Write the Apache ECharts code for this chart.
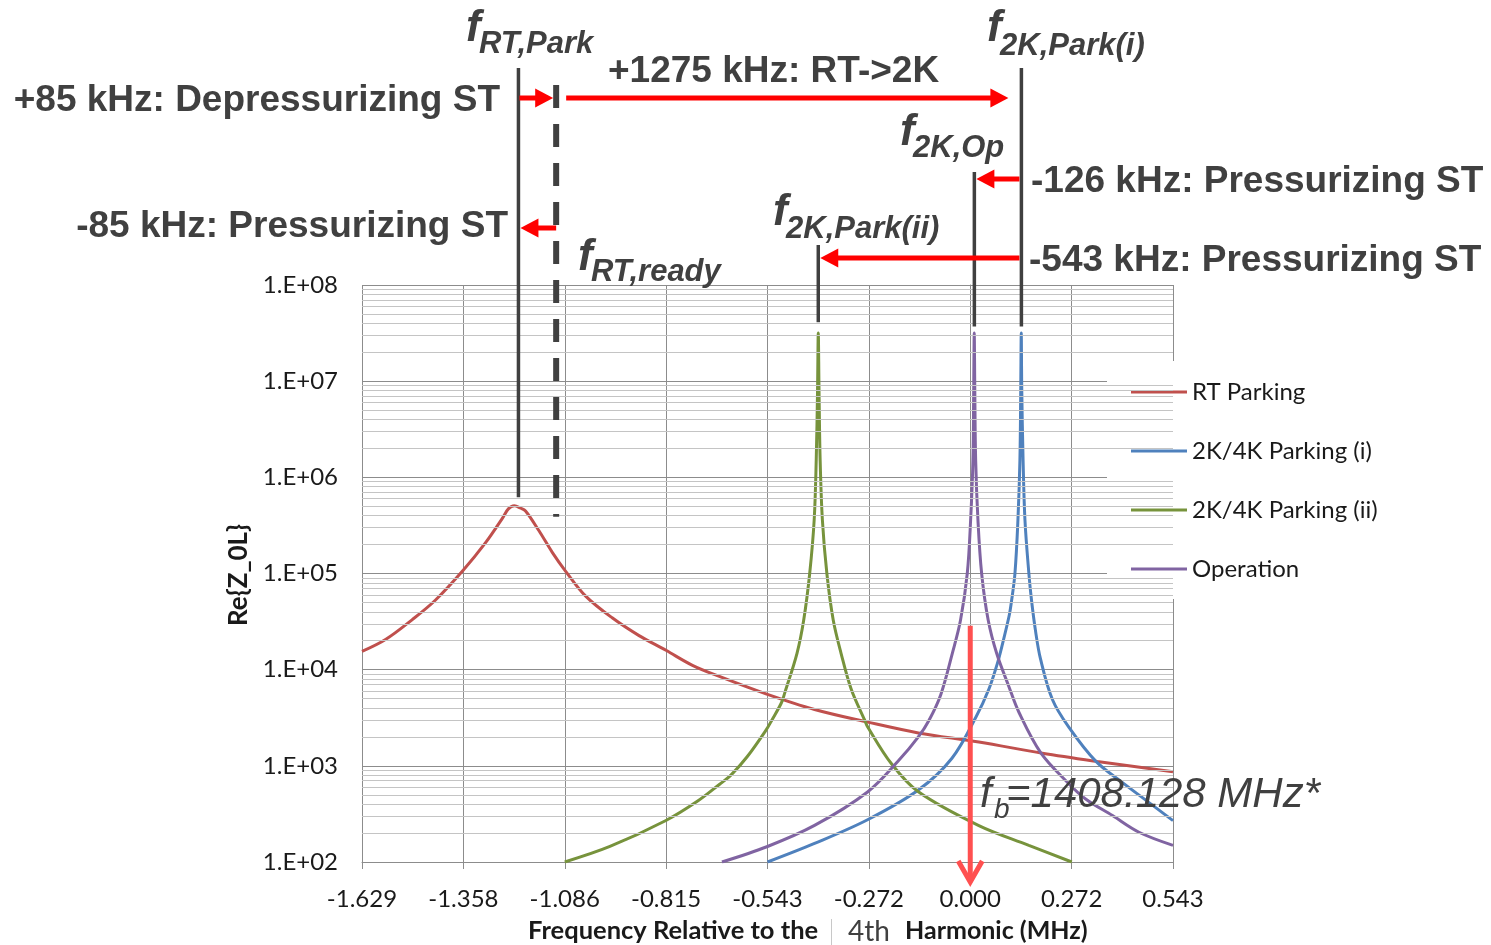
<!DOCTYPE html>
<html><head><meta charset="utf-8">
<script src="https://cdn.jsdelivr.net/npm/echarts@6/dist/echarts.min.js"></script>
<style>html,body{margin:0;padding:0;background:#fff}#c{width:1491px;height:945px}</style>
</head><body><div id="c"></div>
<script>
// ---------- data ----------
const seriesNames = ['RT Parking', '2K/4K Parking (i)', '2K/4K Parking (ii)', 'Operation'];
const xTickLabels = ['-1.629', '-1.358', '-1.086', '-0.815', '-0.543', '-0.272', '0.000', '0.272', '0.543'];
const yTickLabels = ['1.E+02', '1.E+03', '1.E+04', '1.E+05', '1.E+06', '1.E+07', '1.E+08'];
const xMin = -1.629, xMax = 0.543, xStep = 0.2715;

// [frequency offset (MHz), Re{Z_0L}]
const rtParking = [
  [-1.629, 15500], [-1.566, 20600], [-1.495, 33000], [-1.432, 53000], [-1.358, 108000],
  [-1.298, 209000], [-1.254, 370000], [-1.237, 470000], [-1.221, 506000], [-1.205, 480000],
  [-1.191, 447000], [-1.155, 278000], [-1.119, 165000], [-1.084, 106000], [-1.030, 58200],
  [-0.959, 34600], [-0.887, 22600], [-0.815, 15900], [-0.744, 11100], [-0.672, 8500],
  [-0.547, 5600], [-0.417, 3850], [-0.275, 2850], [-0.139, 2200], [0.023, 1770],
  [0.193, 1350], [0.340, 1110], [0.543, 867]
];
const parkingI = [
  [-0.543, 100], [-0.417, 156], [-0.275, 275], [-0.139, 560], [-0.049, 1200], [0.015, 3200],
  [0.050, 6300], [0.0723, 11500], [0.0814, 15500], [0.1036, 35500], [0.110, 50000],
  [0.1197, 100000], [0.1277, 360000], [0.133, 1510000], [0.1352, 8000000], [0.1366, 31600000],
  [0.138, 8000000], [0.1415, 1510000], [0.1465, 360000], [0.157, 100000], [0.164, 53000],
  [0.175, 25000], [0.188, 13000], [0.220, 4900], [0.2644, 2510], [0.336, 1120],
  [0.407, 673], [0.470, 440], [0.543, 269]
];
const parkingII = [
  [-1.086, 100], [-0.965, 145], [-0.815, 270], [-0.730, 430], [-0.672, 640], [-0.641, 800],
  [-0.597, 1250], [-0.547, 2350], [-0.531, 3000], [-0.506, 4500], [-0.497, 5700],
  [-0.464, 14800], [-0.446, 32800], [-0.430, 100000], [-0.418, 360000], [-0.4125, 1510000],
  [-0.409, 8000000], [-0.407, 31600000], [-0.405, 8000000], [-0.402, 1510000], [-0.396, 360000],
  [-0.384, 100000], [-0.367, 32800], [-0.346, 14800], [-0.319, 6300], [-0.283, 3000],
  [-0.275, 2550], [-0.211, 1050], [-0.139, 537], [0.023, 239], [0.157, 149], [0.272, 100]
];
const operation = [
  [-0.665, 100], [-0.543, 145], [-0.417, 240], [-0.275, 535], [-0.193, 1120], [-0.139, 2000],
  [-0.110, 3000], [-0.079, 5500], [-0.048, 14800], [-0.026, 32800], [-0.008, 100000],
  [0.001, 360000], [0.0072, 1510000], [0.0092, 8000000], [0.0107, 31600000], [0.0122, 8000000],
  [0.0145, 1510000], [0.0206, 360000], [0.0305, 100000], [0.048, 32800], [0.0707, 14800],
  [0.1036, 6650], [0.130, 3630], [0.1885, 1374], [0.260, 676], [0.309, 452], [0.381, 304],
  [0.452, 204], [0.543, 149]
];

// annotation marker frequencies (MHz)
const fRTPark = -1.210, fRTReady = -1.109, f2KParkII = -0.407, f2KOp = 0.011, f2KParkI = 0.137;
const fBeam = 0.000;

// ---------- chart ----------
const colors = ['#C0504D', '#4F81BD', '#77933C', '#8064A2'];
const fontC = 'Lato, "Open Sans", sans-serif';
const fontA = '"Liberation Sans", Arial, sans-serif';
const grayAxis = '#8C8C8C';

const minorVals = [];
for (let e = 2; e < 8; e++) for (let m = 2; m <= 9; m++) minorVals.push(m * Math.pow(10, e));

const chart = echarts.init(document.getElementById('c'), null, { renderer: 'canvas' });
const dataSets = [rtParking, parkingI, parkingII, operation];

const option = {
  animation: false,
  backgroundColor: '#fff',
  grid: { left: 362, top: 285, width: 811, height: 577, containLabel: false },
  xAxis: {
    type: 'value', min: xMin, max: xMax, interval: xStep,
    axisLine: { show: true, lineStyle: { color: grayAxis, width: 1 } },
    axisTick: { show: true, length: 7, lineStyle: { color: grayAxis } },
    axisLabel: {
      margin: 25, fontFamily: fontC, fontSize: 24, color: '#1a1a1a',
      formatter: v => xTickLabels[Math.round((v - xMin) / xStep)] || ''
    },
    splitLine: { show: true, lineStyle: { color: grayAxis, width: 1 } }
  },
  yAxis: {
    type: 'log', logBase: 10, min: 100, max: 1e8, splitNumber: 6,
    axisLine: { show: true, lineStyle: { color: grayAxis, width: 1 } },
    axisTick: { show: true, length: 8, lineStyle: { color: grayAxis } },
    axisLabel: {
      margin: 24, fontFamily: fontC, fontSize: 24, color: '#1a1a1a',
      formatter: v => yTickLabels[Math.round(Math.log10(v)) - 2] || ''
    },
    splitLine: { show: true, lineStyle: { color: grayAxis, width: 1 } }
  },
  legend: {
    orient: 'vertical', left: 1107, top: 361, padding: [19, 70, 18, 24],
    backgroundColor: '#fff', itemWidth: 56, itemHeight: 3, itemGap: 35, icon: 'rect',
    data: seriesNames,
    textStyle: { fontFamily: fontC, fontSize: 24, color: '#1a1a1a', lineHeight: 24 }
  },
  series: [
    {
      type: 'line', data: [], silent: true, z: 1,
      markLine: {
        silent: true, symbol: ['none', 'none'], label: { show: false },
        lineStyle: { color: '#C4C4C4', width: 1, type: 'solid' },
        emphasis: { disabled: true },
        data: minorVals.map(v => ({ yAxis: v }))
      }
    }
  ].concat(seriesNames.map((n, i) => ({
    name: n, type: 'line', data: dataSets[i], showSymbol: false, symbol: 'none',
    smooth: 0.35, z: 3,
    lineStyle: { color: colors[i], width: 3 }, itemStyle: { color: colors[i] }
  })))
};
chart.setOption(option);

// ---------- annotations ----------
const X = v => chart.convertToPixel({ xAxisIndex: 0 }, v);
const Y = v => chart.convertToPixel({ yAxisIndex: 0 }, v);
const txtColor = '#404040';
const G = [];

function text(str, x, baseline, size, o) {
  o = o || {};
  const font = (o.italic ? 'italic ' : '') + (o.bold ? 'bold ' : '') + size + 'px ' + (o.family || fontA);
  G.push({
    type: 'text', z: 100, silent: true,
    style: {
      text: str, x: x, y: baseline - 0.35 * size, font: font, fill: o.color || txtColor,
      align: o.align || 'left', textAlign: o.align || 'left',
      verticalAlign: 'middle', textVerticalAlign: 'middle'
    }
  });
}
function vline(x, y1, y2, w, dash) {
  G.push({ type: 'line', z: 90, silent: true, shape: { x1: x, y1: y1, x2: x, y2: y2 },
    style: { stroke: '#404040', lineWidth: w, lineDash: dash || null } });
}
function arrow(x0, xt, y) {
  const dir = xt > x0 ? 1 : -1;
  G.push({ type: 'line', z: 95, silent: true,
    shape: { x1: x0, y1: y, x2: xt - dir * 14, y2: y },
    style: { stroke: '#FF0000', lineWidth: 5 } });
  G.push({ type: 'polygon', z: 95, silent: true,
    shape: { points: [[xt, y], [xt - dir * 18, y - 9.5], [xt - dir * 18, y + 9.5]] },
    style: { fill: '#FF0000' } });
}

const xRP = X(fRTPark), xRR = X(fRTReady), xP2 = X(f2KParkII), xOp = X(f2KOp), xP1 = X(f2KParkI);

// vertical marker lines
vline(xRP, 68, Y(6.2e5), 3.5);
vline(xRR, 85, Y(3.9e5), 6, [23, 16]);
vline(xP2, 245, Y(4.1e7), 3.5);
vline(xOp, 172, Y(3.7e7), 3.5);
vline(xP1, 68, Y(3.7e7), 3.5);

// red shift arrows
arrow(xRP + 1, xRR - 3, 98);
arrow(xRR + 10, xP1 - 13, 98);
arrow(xRR, xRP + 2, 228);
arrow(xP1 - 2, xOp + 2, 179);
arrow(xP1 - 2, xP2 + 2, 258);

// shift texts
text('+85 kHz: Depressurizing ST', 500, 114, 37, { bold: true, align: 'right' });
text('+1275 kHz: RT->2K', 608, 85, 37, { bold: true });
text('-85 kHz: Pressurizing ST', 508, 240, 37, { bold: true, align: 'right' });
text('-126 kHz: Pressurizing ST', 1031, 195, 37, { bold: true });
text('-543 kHz: Pressurizing ST', 1029, 274, 37, { bold: true });

// frequency labels  f_sub
function flabel(sub, fx, fb, sb) {
  text('f', fx, fb, 44, { bold: true, italic: true });
  text(sub, fx + 13, sb, 31, { bold: true, italic: true });
}
flabel('RT,Park', 466, 44, 55);
flabel('2K,Park(i)', 987, 44, 57);
flabel('2K,Op', 900, 148, 159);
flabel('2K,Park(ii)', 773, 228, 240);
flabel('RT,ready', 578, 273, 283);

// beam frequency arrow
const xb = X(fBeam), yTop = Y(28600), yTip = Y(100) + 20;
G.push({ type: 'line', z: 95, silent: true, shape: { x1: xb, y1: yTop, x2: xb, y2: yTip - 2 },
  style: { stroke: '#FF5050', lineWidth: 5 } });
G.push({ type: 'polyline', z: 95, silent: true,
  shape: { points: [[xb - 12, yTip - 21], [xb, yTip], [xb + 12, yTip - 21]] },
  style: { stroke: '#FF5050', lineWidth: 5, fill: null, lineJoin: 'miter' } });
text('f', 980, 810, 42, { italic: true });
text('b', 994, 820, 28, { italic: true });
text('=1408.128 MHz*', 1006, 810, 42, { italic: true });

// axis titles
G.push({
  type: 'text', z: 100, silent: true, x: 239, y: 575, rotation: Math.PI / 2,
  style: { text: 'Re{Z_0L}', x: 0, y: 0, font: 'bold 26px ' + fontC, fill: '#1a1a1a',
    align: 'center', textAlign: 'center', verticalAlign: 'middle', textVerticalAlign: 'middle' }
});
text('Frequency Relative to the', 528, 940, 25.5, { bold: true, family: fontC, color: '#1a1a1a' });
G.push({ type: 'line', z: 90, silent: true, shape: { x1: 831.5, y1: 919, x2: 831.5, y2: 945 },
  style: { stroke: '#C8C8C8', lineWidth: 1 } });
text('4th', 848, 942, 28, { family: fontC, color: '#404040' });
text('Harmonic (MHz)', 905, 940, 25, { bold: true, family: fontC, color: '#1a1a1a' });

chart.setOption({ graphic: G });
</script>
</body></html>
